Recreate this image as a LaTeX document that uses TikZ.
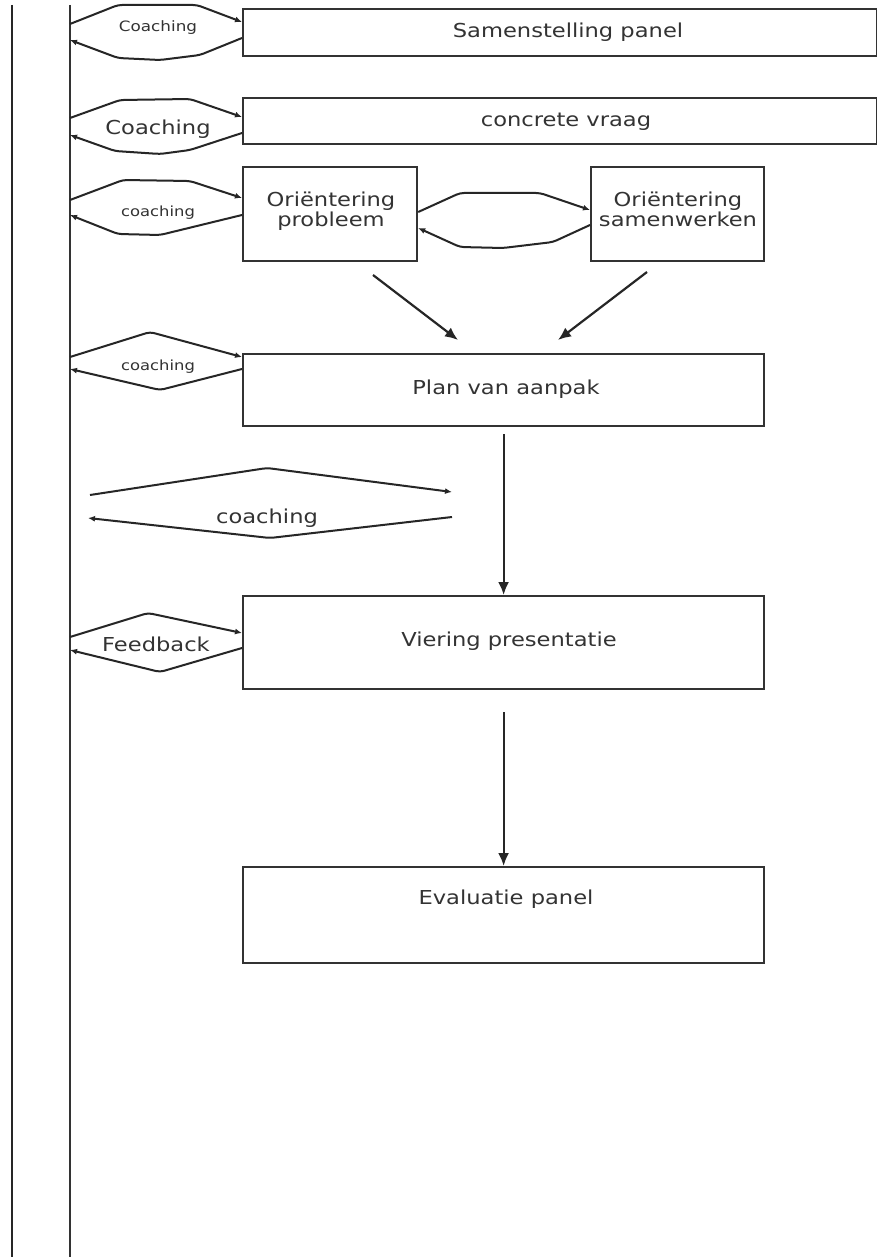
\documentclass[tikz,border=0pt]{standalone}
\usepackage{fontspec}
\setmainfont{DejaVu Sans}
\usepackage{graphicx}
\usetikzlibrary{arrows.meta}
\newcommand\sqz[1]{\scalebox{1}[0.85]{#1}}
\begin{document}
\begin{tikzpicture}[x=0.5pt,y=-0.5pt,
  box/.style={draw=black!80, line width=1.1pt, rectangle, inner sep=0pt, anchor=north west},
  txt/.style={font=\fontsize{11.3}{11.5}\selectfont, text=black!80, inner sep=0pt, align=center},
  smalltxt/.style={font=\fontsize{8.4}{9}\selectfont, text=black!80, inner sep=0pt},
  cl/.style={draw=black!85, line width=1pt, rounded corners=2pt, -{Latex[length=3.5pt,width=3pt]}},
  flow/.style={draw=black!85, line width=1.1pt, -{Latex[length=6.5pt,width=5.5pt]}}]
\useasboundingbox (0,0) rectangle (877,1257);
\fill[white] (0,0) rectangle (877,1257);
% left bar
\draw[line width=1.4pt, black!85] (12,5) -- (12,1257);
\draw[line width=1.2pt, black!80] (70,5) -- (70,1257);
% boxes
\node[box, minimum width=317pt, minimum height=23.5pt] (b1) at (242,8) {};
\node[box, minimum width=317pt, minimum height=23pt] (b2) at (242,97) {};
\node[box, minimum width=87pt, minimum height=47pt] (b3) at (242,166) {};
\node[box, minimum width=86.5pt, minimum height=47pt] (b4) at (590,166) {};
\node[box, minimum width=260.5pt, minimum height=36pt] (b5) at (242,353) {};
\node[box, minimum width=260.5pt, minimum height=46.5pt] (b6) at (242,595) {};
\node[box, minimum width=260.5pt, minimum height=48pt] (b7) at (242,866) {};
% box texts
\node[txt] (t1) at (568,32) {\sqz{Samenstelling panel}};
\node[txt] (t2) at (566,122) {\sqz{concrete vraag}};
\node[txt] (t3) at (331,212) {\sqz{\begin{tabular}{@{}c@{}}Oriëntering\\probleem\end{tabular}}};
\node[txt] (t4) at (678,212) {\sqz{\begin{tabular}{@{}c@{}}Oriëntering\\samenwerken\end{tabular}}};
\node[txt] (t5) at (506,389) {\sqz{Plan van aanpak}};
\node[txt] (t6) at (509,641) {\sqz{Viering presentatie}};
\node[txt] (t7) at (506,899) {\sqz{Evaluatie panel}};
% bar coordinates
\coordinate (r1a) at (70,24);  \coordinate (r1b) at (70,40);
\coordinate (r2a) at (70,118); \coordinate (r2b) at (70,135);
\coordinate (r3a) at (70,200); \coordinate (r3b) at (70,215);
\coordinate (r4a) at (70,357); \coordinate (r4b) at (70,369);
\coordinate (r6a) at (70,637); \coordinate (r6b) at (70,650);
\coordinate (ma) at (90,495);  \coordinate (mb) at (452,492);
\coordinate (mc) at (452,517); \coordinate (md) at (88,518);
% coaching loops
\draw[cl] (r1a) -- (118,5) -- (197,5) -- ([yshift=-7pt]b1.north west);
\draw[cl] ([yshift=-15pt]b1.north west) -- (200,55) -- (160,60) -- (118,58) -- (r1b);
\node[smalltxt] (c1) at (158,28) {\sqz{Coaching}};
\draw[cl] (r2a) -- (120,100) -- (190,99) -- ([yshift=-10pt]b2.north west);
\draw[cl] ([yshift=-18pt]b2.north west) -- (190,150) -- (160,154) -- (115,151) -- (r2b);
\node[txt] (c2) at (158,129) {\sqz{Coaching}};
\draw[cl] (r3a) -- (123,180) -- (190,181) -- ([yshift=-16pt]b3.north west);
\draw[cl] ([yshift=-24.5pt]b3.north west) -- (160,235) -- (118,234) -- (r3b);
\node[smalltxt, font=\fontsize{8.2}{9}\selectfont] (c3) at (158,213) {\sqz{coaching}};
\draw[cl] (r4a) -- (150,332) -- ([yshift=-2pt]b5.north west);
\draw[cl] ([yshift=-8pt]b5.north west) -- (160,390) -- (r4b);
\node[smalltxt, font=\fontsize{8.2}{9}\selectfont] (c4) at (158,367) {\sqz{coaching}};
\draw[cl] (ma) -- (267,468) -- (mb);
\draw[cl] (mc) -- (270,538) -- (md);
\node[txt] (c5) at (267,518) {\sqz{coaching}};
\draw[cl] (r6a) -- (148,613) -- ([yshift=-19pt]b6.north west);
\draw[cl] ([yshift=-26.5pt]b6.north west) -- (160,672) -- (r6b);
\node[txt] (c6) at (156,644) {\sqz{Feedback}};
% link between orientering boxes
\draw[cl] ([yshift=-23pt]b3.north east) -- (460,193) -- (540,193) -- ([yshift=-22pt]b4.north west);
\draw[cl] ([yshift=-29.5pt]b4.north west) -- (553,242) -- (503,248) -- (460,247) -- ([yshift=-31pt]b3.north east);
% flow arrows
\coordinate (d1a) at (373,275); \coordinate (d1b) at (458,340);
\coordinate (d2a) at (647,272); \coordinate (d2b) at (558,340);
\draw[flow] (d1a) -- (d1b);
\draw[flow] (d2a) -- (d2b);
\draw[flow] ([yshift=-3.5pt]b5.south) -- (b6.north);
\draw[flow] ([yshift=-11pt]b6.south) -- (b7.north);
\end{tikzpicture}
\end{document}
